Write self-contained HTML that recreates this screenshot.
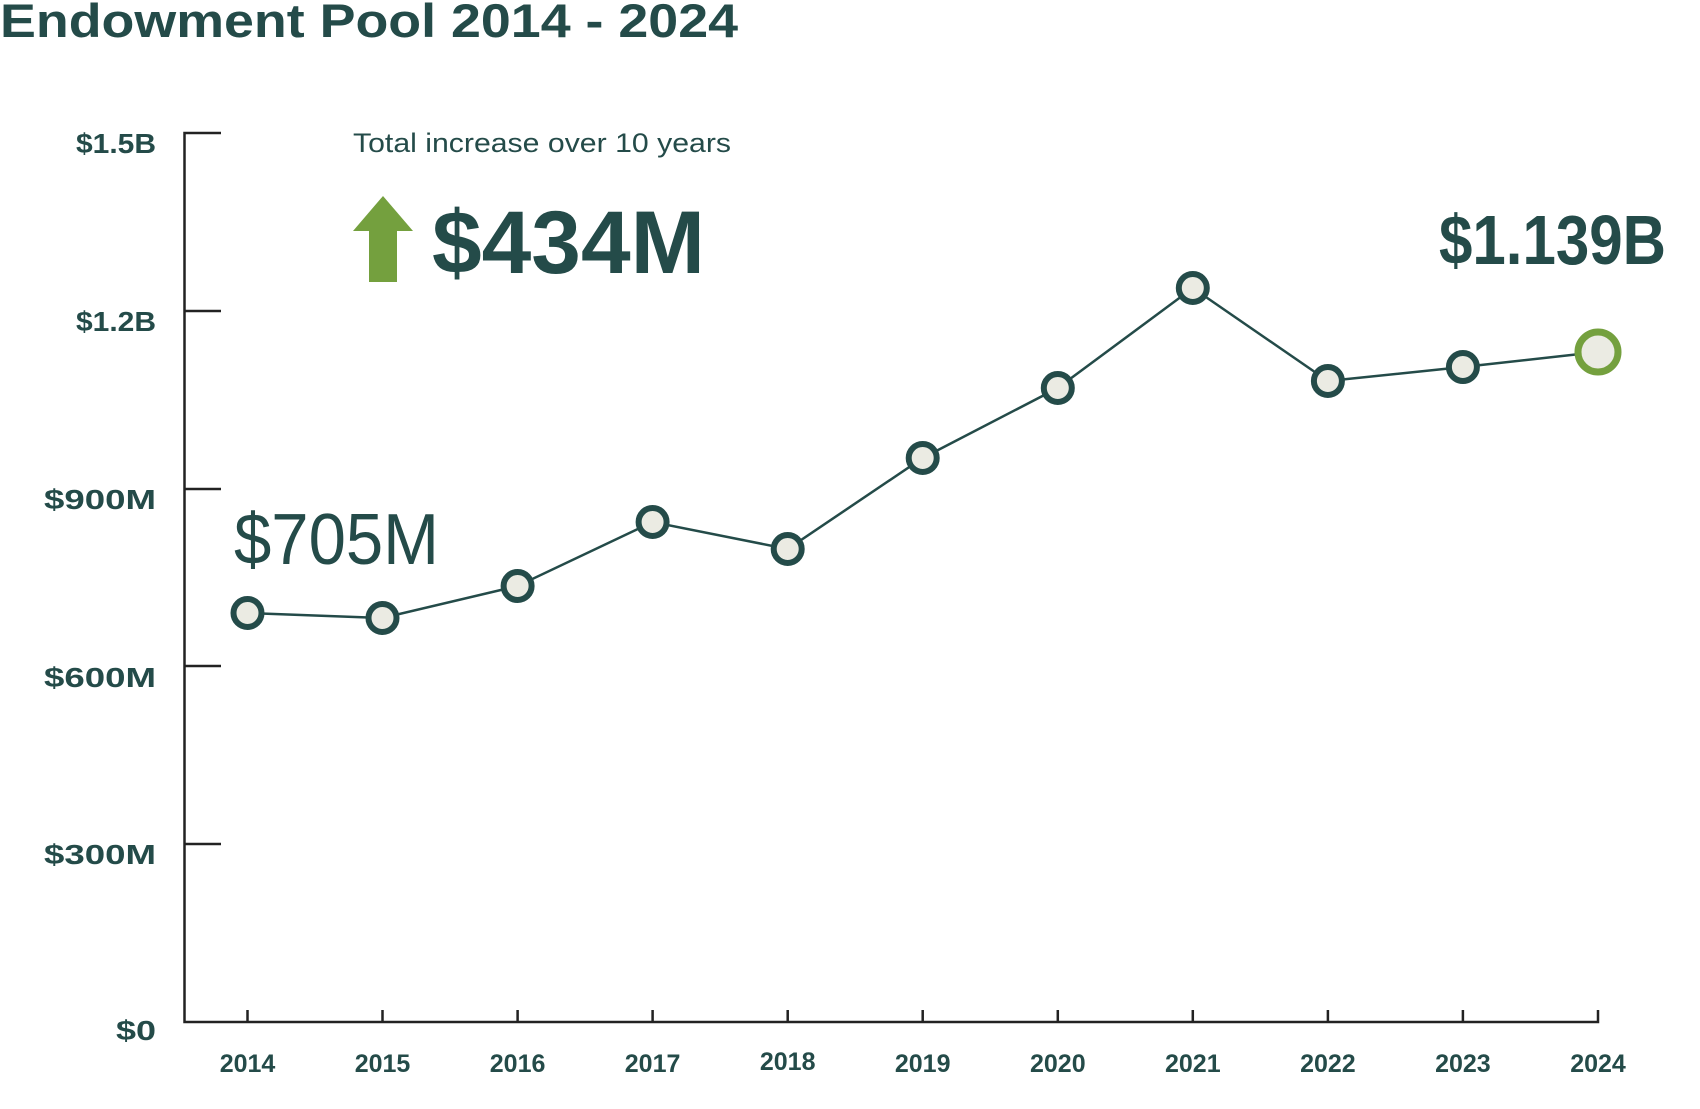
<!DOCTYPE html>
<html><head><meta charset="utf-8"><style>
html,body{margin:0;padding:0;background:#fff;width:1700px;height:1109px;overflow:hidden}
svg{display:block}
text{font-family:"Liberation Sans",sans-serif;fill:#244b49}
</style></head><body>
<svg width="1700" height="1109" viewBox="0 0 1700 1109">
<text x="0" y="37" font-size="47" font-weight="bold" textLength="738" lengthAdjust="spacingAndGlyphs">Endowment Pool 2014 - 2024</text>
<g stroke="#222" stroke-width="2.5" fill="none">
<path d="M221 133H184.5V1022H1598V1010"/>
<path d="M184.5 311H221M184.5 489H221M184.5 666H221M184.5 844H221"/>
<path d="M247.5 1022v-12M382.5 1022v-12M517.6 1022v-12M652.6 1022v-12M787.7 1022v-12M922.7 1022v-12M1057.8 1022v-12M1192.8 1022v-12M1327.9 1022v-12M1462.9 1022v-12"/>
</g>
<g font-size="28" font-weight="bold" lengthAdjust="spacingAndGlyphs">
<text x="76" y="153" textLength="80" lengthAdjust="spacingAndGlyphs">$1.5B</text>
<text x="76" y="331" textLength="80" lengthAdjust="spacingAndGlyphs">$1.2B</text>
<text x="44" y="509" textLength="112" lengthAdjust="spacingAndGlyphs">$900M</text>
<text x="44" y="687" textLength="112" lengthAdjust="spacingAndGlyphs">$600M</text>
<text x="44" y="864" textLength="112" lengthAdjust="spacingAndGlyphs">$300M</text>
<text x="116" y="1040" textLength="40" lengthAdjust="spacingAndGlyphs">$0</text>
</g>
<g font-size="25" font-weight="bold" text-anchor="middle">
<text x="247.5" y="1072">2014</text><text x="382.5" y="1072">2015</text><text x="517.6" y="1072">2016</text><text x="652.6" y="1072">2017</text><text x="787.7" y="1070">2018</text><text x="922.7" y="1072">2019</text><text x="1057.8" y="1072">2020</text><text x="1192.8" y="1072">2021</text><text x="1327.9" y="1072">2022</text><text x="1462.9" y="1072">2023</text><text x="1598" y="1072">2024</text>
</g>
<text x="353" y="152" font-size="27" textLength="378" lengthAdjust="spacingAndGlyphs">Total increase over 10 years</text>
<path d="M353 231L383 196L413 231H397V282H369V231Z" fill="#74a03e"/>
<text x="432" y="273" font-size="89" font-weight="bold" textLength="273" lengthAdjust="spacingAndGlyphs">$434M</text>
<text x="1439" y="264" font-size="70" font-weight="bold" textLength="227" lengthAdjust="spacingAndGlyphs">$1.139B</text>
<text x="234" y="564" font-size="72" textLength="205" lengthAdjust="spacingAndGlyphs">$705M</text>
<polyline fill="none" stroke="#244b49" stroke-width="2.5" points="247.5,613 382.5,618 517.6,586 652.6,522 787.7,549 922.7,458 1057.8,388 1192.8,288 1327.9,381 1462.9,367 1598,352"/>
<g fill="#ebebe3" stroke="#244b49" stroke-width="6">
<circle cx="247.5" cy="613" r="14"/><circle cx="382.5" cy="618" r="14"/><circle cx="517.6" cy="586" r="14"/><circle cx="652.6" cy="522" r="14"/><circle cx="787.7" cy="549" r="14"/><circle cx="922.7" cy="458" r="14"/><circle cx="1057.8" cy="388" r="14"/><circle cx="1192.8" cy="288" r="14"/><circle cx="1327.9" cy="381" r="14"/><circle cx="1462.9" cy="367" r="14"/>
</g>
<circle cx="1598" cy="352" r="20" fill="#ebebe3" stroke="#74a03e" stroke-width="7"/>
</svg>
</body></html>
